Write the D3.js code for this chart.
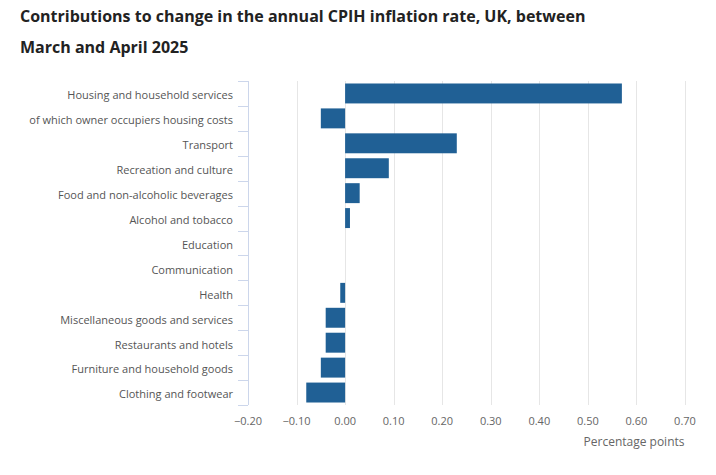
<!DOCTYPE html>
<html lang="en">
<head>
<meta charset="utf-8">
<title>Contributions to change in the annual CPIH inflation rate</title>
<script src="https://cdn.jsdelivr.net/npm/d3@7"></script>
<style>
  body { margin: 0; background: #fff; }
  text { font-family: "Open Sans", sans-serif; }
</style>
</head>
<body>
<script>
// data
var categories = [
  "Housing and household services",
  "of which owner occupiers housing costs",
  "Transport",
  "Recreation and culture",
  "Food and non-alcoholic beverages",
  "Alcohol and tobacco",
  "Education",
  "Communication",
  "Health",
  "Miscellaneous goods and services",
  "Restaurants and hotels",
  "Furniture and household goods",
  "Clothing and footwear"
];
var values = [0.57, -0.05, 0.23, 0.09, 0.03, 0.01, 0, 0, -0.01, -0.04, -0.04, -0.05, -0.08];
var xTicks = [-0.2, -0.1, 0, 0.1, 0.2, 0.3, 0.4, 0.5, 0.6, 0.7];

var W = 716, H = 475;
var margin = {top: 81, right: 31, bottom: 70, left: 248};

var svg = d3.select("body").append("svg")
  .attr("width", W)
  .attr("height", H);

// title
var title = svg.append("text")
  .attr("x", 20)
  .attr("font-size", "16px")
  .attr("font-weight", "bold")
  .attr("fill", "#222");
title.append("tspan").attr("x", 20).attr("y", 22).text("Contributions to change in the annual CPIH inflation rate, UK, between");
title.append("tspan").attr("x", 20).attr("y", 53).text("March and April 2025");

var x = d3.scaleLinear()
  .domain([-0.2, 0.7])
  .range([margin.left, W - margin.right]);

var y = d3.scaleBand()
  .domain(categories)
  .range([margin.top, H - margin.bottom])
  .paddingInner(0.2)
  .paddingOuter(0.1);

var plotTop = margin.top, plotBottom = H - margin.bottom;

// grid
svg.append("g")
  .selectAll("line")
  .data(xTicks)
  .enter()
  .append("line")
  .attr("x1", function(d) { return Math.round(x(d)) + 0.5; })
  .attr("x2", function(d) { return Math.round(x(d)) + 0.5; })
  .attr("y1", plotTop)
  .attr("y2", plotBottom)
  .attr("stroke", "#e6e6e6")
  .attr("stroke-width", 1);

// x tick labels
svg.append("g")
  .selectAll("text")
  .data(xTicks)
  .enter()
  .append("text")
  .attr("x", function(d) { return x(d); })
  .attr("y", plotBottom + 20)
  .attr("text-anchor", "middle")
  .attr("font-size", "11px")
  .attr("fill", "#666")
  .text(function(d) { return d3.format(".2f")(d); });

svg.append("text")
  .attr("x", W - margin.right - 0.5)
  .attr("y", plotBottom + 41)
  .attr("text-anchor", "end")
  .attr("font-size", "12px")
  .attr("fill", "#666")
  .text("Percentage points");

// bars
svg.append("g")
  .selectAll("rect")
  .data(values)
  .enter()
  .append("rect")
  .attr("x", function(d) { return x(Math.min(0, d)); })
  .attr("y", function(d, i) { return y(categories[i]); })
  .attr("width", function(d) { return Math.abs(x(d) - x(0)); })
  .attr("height", y.bandwidth())
  .attr("fill", "#206095");

// y axis with ticks at band edges
var step = y.step();
var edges = d3.range(categories.length + 1).map(function(i) { return plotTop + i * step; });
var axisG = svg.append("g");
axisG.append("line")
  .attr("x1", margin.left + 0.5).attr("x2", margin.left + 0.5)
  .attr("y1", plotTop).attr("y2", plotBottom)
  .attr("stroke", "#ccd6eb");
axisG.selectAll("line.tk")
  .data(edges)
  .enter()
  .append("line")
  .attr("class", "tk")
  .attr("x1", margin.left - 10).attr("x2", margin.left)
  .attr("y1", function(d) { return Math.round(d) + 0.5; })
  .attr("y2", function(d) { return Math.round(d) + 0.5; })
  .attr("stroke", "#ccd6eb");

svg.append("g")
  .selectAll("text")
  .data(categories)
  .enter()
  .append("text")
  .attr("x", margin.left - 15)
  .attr("y", function(d) { return y(d) + y.bandwidth() / 2 + 2; })
  .attr("dy", "0.35em")
  .attr("text-anchor", "end")
  .attr("font-size", "11px")
  .attr("fill", "#555")
  .text(function(d) { return d; });
</script>
</body>
</html>
